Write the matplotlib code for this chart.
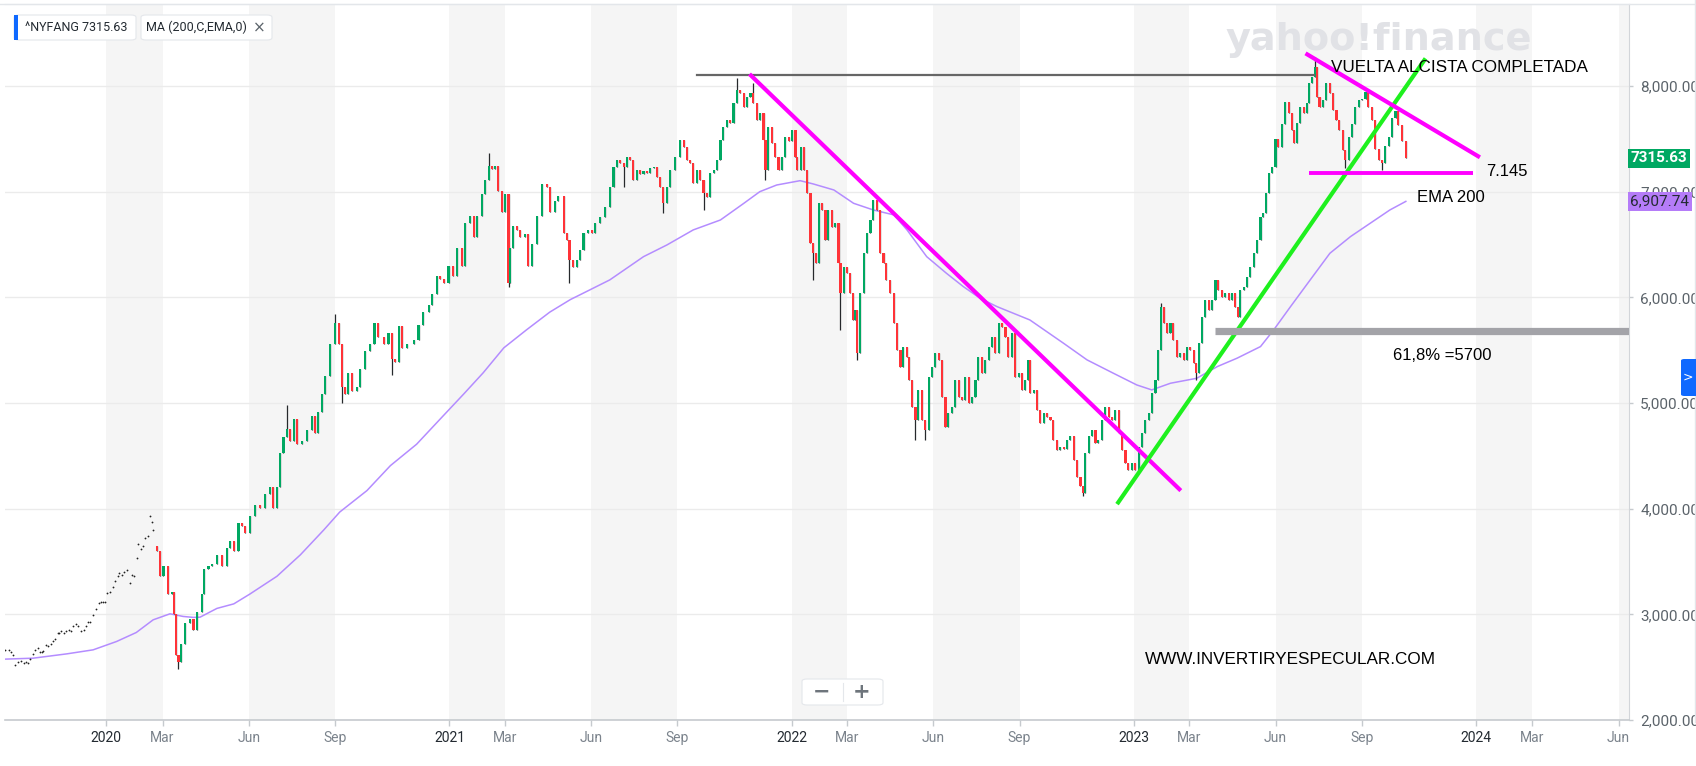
import numpy as np
import matplotlib
matplotlib.use("Agg")
import matplotlib.pyplot as plt
from matplotlib.patches import FancyBboxPatch, Rectangle
from matplotlib.lines import Line2D

W, H = 1696, 766

# ---------------- data (x = days since 2020-01-01) ----------------
dot_days = [-108, -104, -102, -100, -97, -94, -91, -88, -86, -83, -81, -78, -76, -73, -71, -69, -67,
            -64, -62, -59, -57, -55, -52, -50, -48, -45, -43, -40, -38, -35, -32, -30, -27, -24, -22,
            -19, -17, -14, -11, -8, -6, -3, -1, 1, 4, 7, 9, 12, 14, 17, 19, 22, 25, 27, 30, 33, 34,
            37, 39, 41, 44, 47, 49, 50]
dot_vals = [2658, 2658, 2648, 2617, 2522, 2547, 2563, 2538, 2551, 2538, 2576, 2626, 2664, 2686, 2639,
            2642, 2652, 2711, 2696, 2718, 2743, 2765, 2822, 2828, 2838, 2828, 2844, 2853, 2838, 2885,
            2910, 2885, 2838, 2853, 2885, 2923, 2932, 2995, 3049, 3106, 3121, 3112, 3121, 3200, 3216,
            3263, 3311, 3364, 3389, 3374, 3396, 3415, 3295, 3374, 3364, 3531, 3667, 3617, 3642, 3721,
            3743, 3926, 3878, 3800]

first_open = 3650
days = [54, 57, 61, 66, 70, 72, 74, 77, 80, 84, 89, 93, 97, 102, 104, 109, 113, 118, 123, 129, 132,
        136, 141, 145, 148, 153, 159, 164, 169, 175, 178, 182, 185, 189, 193, 196, 200, 203, 209, 214,
        219, 223, 226, 230, 233, 239, 244, 248, 251, 255, 258, 262, 267, 271, 276, 281, 286, 290, 296,
        301, 305, 308, 312, 315, 321, 328, 333, 338, 344, 347, 353, 356, 360, 365, 370, 374, 379, 383,
        388, 392, 395, 401, 404, 408, 411, 415, 418, 422, 425, 429, 431, 434, 438, 441, 447, 450, 454,
        459, 465, 470, 473, 479, 482,
        488, 491, 494, 498, 502, 505, 509, 514, 518, 521, 527, 532, 537, 541, 545, 548, 552, 555, 559,
        562, 566, 569, 573, 577, 580, 584, 587, 591, 594, 598, 601, 607, 612, 616, 619, 623, 626, 630,
        633, 637, 641, 644, 648, 651, 655, 658, 662, 665, 669, 673, 676, 680, 683, 687, 690, 694, 697,
        701, 703, 706, 710, 713, 717, 721, 724, 728, 731, 735, 737, 741, 744, 747, 751, 754, 757, 760,
        763, 767, 770, 774, 777, 781, 783, 787, 790, 793, 796, 799, 801, 804, 808, 811, 815, 818, 822,
        825, 829, 832, 836, 840, 843, 847, 850, 854, 856, 859, 863, 866, 870, 873, 877, 881, 884, 888,
        891, 895, 898, 902, 905, 909, 913, 916, 920,
        923, 927, 930, 934, 937, 941, 945, 948, 952, 955, 959, 962, 966, 969, 973, 977, 980, 983, 985,
        989, 993, 996, 1000, 1003, 1007, 1010, 1014, 1017, 1021, 1025, 1028, 1032, 1035, 1039, 1042,
        1044, 1048, 1051, 1055, 1058, 1062, 1065, 1069, 1073, 1076, 1080, 1083, 1087, 1090, 1094, 1097,
        1101, 1105, 1108, 1112, 1115, 1119, 1122, 1125, 1128, 1131, 1135, 1138, 1142, 1145, 1149, 1153,
        1156, 1160, 1162, 1165, 1169, 1172, 1176, 1179, 1183, 1186, 1190, 1193, 1197, 1201, 1204, 1207,
        1209, 1213, 1217, 1220, 1224, 1227, 1231, 1234, 1237, 1240, 1243, 1247, 1250, 1254, 1257, 1261,
        1265, 1267, 1270, 1273, 1277, 1281, 1283, 1286, 1289, 1291, 1294, 1298, 1301, 1305, 1308, 1312,
        1315, 1319, 1321, 1325, 1329, 1332, 1336, 1339, 1343, 1346, 1350, 1353, 1357, 1361, 1364, 1368,
        1371, 1375, 1378, 1382, 1386]
closes = [3600, 3360, 3460, 3190, 3210, 3005, 2617, 2550, 2718, 2920, 2955, 2853, 3022, 3190, 3427,
          3460, 3478, 3562, 3460, 3630, 3698, 3597, 3867, 3840, 3765, 3935, 4036, 4002, 4137, 4204,
          4002, 4204, 4526, 4678, 4750, 4644, 4847, 4610, 4640, 4745, 4880, 4712, 4914, 5083, 5252,
          5556, 5759, 5556, 5150, 5083, 5286, 5117, 5150, 5320, 5489, 5556, 5759, 5624, 5556, 5658,
          5421, 5387, 5725, 5522, 5560, 5600, 5742, 5860, 5928, 6029, 6198, 6170, 6131, 6300, 6198,
          6469, 6300, 6705, 6773, 6570, 6773, 6975, 7111, 7246, 7212, 7246, 7009, 6806, 6975, 6131,
          6469, 6671, 6638, 6570, 6604, 6300, 6502, 6773, 7077, 7043, 6806, 6908, 6958,
          6606, 6543, 6354, 6290, 6354, 6448, 6606, 6638, 6606, 6701, 6764, 6858, 7048, 7237, 7300,
          7268, 7237, 7331, 7300, 7111, 7205, 7170, 7200, 7180, 7220, 7237, 7142, 7048, 6890, 7048,
          7205, 7331, 7489, 7426, 7300, 7268, 7079, 7205, 7111, 6985, 6953, 7174, 7205, 7300, 7489,
          7615, 7678, 7647, 7836, 7962, 7930, 7804, 7899, 7930, 7836, 7678, 7741, 7489, 7205, 7615,
          7458, 7331, 7205, 7331, 7521, 7480, 7584, 7331, 7205, 7426, 7205, 6985, 6511, 6417, 6322,
          6890, 6827, 6543, 6827, 6669, 6701, 6322, 6039, 6291, 6228, 6039, 5786, 5881, 5471, 6039,
          6417, 6606, 6732, 6921, 6827, 6417, 6322, 6165, 6039, 5755, 5502, 5345, 5534, 5439, 5219,
          4966, 4840, 5124, 4840, 4746, 5250, 5345, 5471, 5408, 5061, 4777, 4903, 4966, 5219, 5061,
          5029, 5250, 4998,
          5061, 5218, 5439, 5282, 5408, 5534, 5629, 5471, 5755, 5720, 5629, 5439, 5660, 5250, 5282,
          5124, 5218, 5408, 5092, 5124, 4935, 4808, 4903, 4872, 4840, 4651, 4556, 4588, 4560, 4651,
          4683, 4462, 4304, 4210, 4146, 4525, 4683, 4746, 4620, 4651, 4840, 4966, 4872, 4840, 4935,
          4714, 4556, 4430, 4367, 4430, 4367, 4588, 4714, 4840, 4903, 5092, 5218, 5502, 5912, 5755,
          5660, 5755, 5597, 5439, 5471, 5408, 5534, 5502, 5376, 5282, 5565, 5818, 5975, 5881, 5975,
          6165, 6070, 6007, 6039, 5975, 6039, 5912, 5818, 6070, 6102, 6196, 6291, 6417, 6543, 6764,
          6795, 6985, 7174, 7237, 7500, 7426, 7640, 7850, 7741, 7584, 7458, 7647, 7804, 7741, 7836,
          8025, 8088, 8183, 7899, 7804, 7867, 8025, 7930, 7773, 7678, 7584, 7395, 7300, 7521, 7640,
          7800, 7867, 7880, 7940, 7800, 7678, 7400, 7300, 7270, 7430, 7520, 7700, 7760, 7630, 7480,
          7316]

hi_days = [77, 193, 244, 408, 673, 690, 1125, 1289]
hi_vals = [2600, 4982, 5843, 7364, 8072, 8025, 5944, 8270]
lo_days = [77, 251, 305, 429, 494, 552, 594, 637, 703, 754, 783, 801, 863, 873, 1042, 1162, 1321, 1361]
lo_vals = [2480, 5000, 5269, 6100, 6133, 7048, 6795, 6827, 7111, 6165, 5692, 5408, 4651, 4651, 4120,
           5220, 7221, 7205]

ema_days = [-108, -78, -42, -14, 11, 32, 50, 68, 82, 93, 100, 118, 136, 153, 182, 207, 232, 249, 278,
            303, 331, 356, 381, 402, 424, 448, 473, 495, 505, 537, 573, 598, 626, 655, 680, 697, 715,
            740, 754, 776, 797, 818, 840, 854, 875, 896, 914, 932, 950, 985, 1021, 1046, 1074, 1099,
            1115, 1135, 1163, 1185, 1206, 1231, 1245, 1263, 1284, 1305, 1327, 1348, 1369, 1386]
ema_vals = [2576, 2585, 2626, 2664, 2743, 2828, 2948, 3005, 2980, 2971, 2973, 3056, 3099, 3191, 3360,
            3563, 3799, 3968, 4171, 4407, 4610, 4847, 5083, 5286, 5522, 5691, 5860, 5979, 6023, 6165,
            6385, 6496, 6638, 6732, 6890, 7000, 7063, 7104, 7073, 7016, 6890, 6827, 6780, 6638, 6385,
            6228, 6102, 5991, 5912, 5786, 5565, 5408, 5282, 5171, 5124, 5187, 5234, 5345, 5424, 5534,
            5691, 5912, 6165, 6417, 6575, 6701, 6827, 6908]

last_price = 7315.63
last_ema = 6907.74

tick_dates = ["2020-01-01", "2020-03-01", "2020-06-01", "2020-09-01", "2021-01-01", "2021-03-01",
              "2021-06-01", "2021-09-01", "2022-01-01", "2022-03-01", "2022-06-01", "2022-09-01",
              "2023-01-01", "2023-03-01", "2023-06-01", "2023-09-01", "2024-01-01", "2024-03-01",
              "2024-06-01"]
tick_labels = ["2020", "Mar", "Jun", "Sep", "2021", "Mar", "Jun", "Sep", "2022", "Mar", "Jun", "Sep",
               "2023", "Mar", "Jun", "Sep", "2024", "Mar", "Jun"]
y_ticks = [2000, 3000, 4000, 5000, 6000, 7000, 8000]

# annotation lines (days, values)
top_line_days, top_line_vals = [630, 1288], [8104, 8104]
down1_days, down1_vals = [686, 1146], [8113, 4171]
green_days, green_vals = [1078, 1407], [4043, 8261]
down2_days, down2_vals = [1279, 1465], [8309, 7325]
sup_days, sup_vals = [1283, 1458], [7174, 7174]
fib_days, fib_vals = [1183, 1624], [5680, 5680]

# ---------------- figure ----------------
fig = plt.figure(figsize=(W / 100, H / 100), dpi=100)
fig.patch.set_facecolor("white")


def fx(x):
    return x / W


def fy(y):
    return 1 - y / H


ax_left, ax_right, ax_top, ax_bottom = 5, 1629, 4, 720
ax = fig.add_axes([fx(ax_left), fy(ax_bottom), (ax_right - ax_left) / W, (ax_bottom - ax_top) / H])
ax.set_facecolor("white")
ax.set_xlim(-108, 1624)
ax.set_ylim(2002, 8776)

base = np.datetime64("2020-01-01")
tick_d = [(np.datetime64(t) - base).astype(int) for t in tick_dates]

# shaded bands: Jan-Mar and Jun-Sep
for yr in range(2019, 2025):
    for a, b in [(f"{yr}-01-01", f"{yr}-03-01"), (f"{yr}-06-01", f"{yr}-09-01")]:
        da = (np.datetime64(a) - base).astype(int)
        db = (np.datetime64(b) - base).astype(int)
        ax.axvspan(da, db, color="#f5f5f5", lw=0, zorder=0)

for v in y_ticks[1:]:
    ax.axhline(v, color="#ebebeb", lw=1, zorder=0.5)

# watermark
fig.text(fx(1379), fy(40), "yahoo!finance", fontsize=27.5, fontweight="bold",
         family="DejaVu Sans", color="#e1e2e6", ha="center", va="center", zorder=0.6)

# dots before candles
ax.plot(dot_days, dot_vals, "o", ms=1.3, color="#222222", mew=0, zorder=3)

# candles
d = np.array(days, float)
c = np.array(closes, float)
o = np.r_[first_open, c[:-1]]
hi = np.maximum(o, c)
lo = np.minimum(o, c)
for sd, sv in zip(hi_days, hi_vals):
    i = int(np.argmin(np.abs(d - sd)))
    hi[i] = max(hi[i], sv)
for sd, sv in zip(lo_days, lo_vals):
    i = int(np.argmin(np.abs(d - sd)))
    lo[i] = min(lo[i], sv)
up = c >= o
body_h = c - o
body_h = np.where(np.abs(body_h) < 14, np.where(up, 14, -14), body_h)
colors = np.where(up, "#00a862", "#ff3338")
ax.vlines(d, lo, hi, color="#26292c", lw=0.9, zorder=3)
ax.bar(d, body_h, bottom=o, width=2.3, color=colors, lw=0, zorder=4)

# EMA
ax.plot(ema_days, ema_vals, color="#b48cff", lw=1.1, zorder=2.5)

# annotation lines
ax.plot(top_line_days, top_line_vals, color="#666666", lw=1.6, zorder=5)
ax.plot(down1_days, down1_vals, color="#ff00ff", lw=3.0, zorder=6, solid_capstyle="butt")
ax.plot(green_days, green_vals, color="#1ef01e", lw=3.0, zorder=6, solid_capstyle="butt")
ax.plot(down2_days, down2_vals, color="#ff00ff", lw=3.0, zorder=6, solid_capstyle="butt")
ax.plot(sup_days, sup_vals, color="#ff00ff", lw=2.8, zorder=6, solid_capstyle="butt")
ax.plot(fib_days, fib_vals, color="#a3a3a8", lw=5.2, zorder=6, solid_capstyle="butt")

# annotation texts
txt = dict(family="Liberation Sans", color="black", va="center", ha="left", zorder=7)
fig.text(fx(1331), fy(67), "VUELTA ALCISTA COMPLETADA", fontsize=12.3, **txt)
fig.text(fx(1486), fy(171), "7.145", fontsize=12, **txt)
fig.text(fx(1417), fy(198), "EMA 200", fontsize=12, **txt)
fig.text(fx(1393), fy(356), "61,8% =5700", fontsize=12, **txt)
fig.text(fx(1145), fy(659), "WWW.INVERTIRYESPECULAR.COM", fontsize=12.3, **txt)

# axes styling
ax.spines["left"].set_visible(False)
ax.spines["top"].set_color("#e3e6ea")
ax.spines["right"].set_color("#d2d5d9")
ax.spines["bottom"].set_color("#c6cace")
ax.spines["bottom"].set_linewidth(1.2)

ax.set_xticks(tick_d)
ax.set_xticklabels(tick_labels, family="Roboto", fontsize=10)
for lbl, t in zip(ax.get_xticklabels(), tick_labels):
    lbl.set_color("#232a31" if t.isdigit() else "#7b838c")
ax.tick_params(axis="x", direction="out", length=4, width=1, color="#c6cace", pad=4)

ax.yaxis.tick_right()
ax.set_yticks(y_ticks)
ax.set_yticklabels([f"{v:,.2f}" for v in y_ticks], family="Roboto", fontsize=11, color="#5b636a")
ax.tick_params(axis="y", direction="out", length=3, width=1, color="#c6cace", pad=5)

# price badges
ytr = ax.get_yaxis_transform()
ax.text(1.0008, last_price, f"{last_price:.2f}", transform=ytr, fontsize=11, family="Roboto",
        fontweight="bold", color="white", va="center", ha="left", zorder=10, clip_on=False,
        bbox=dict(boxstyle="square,pad=0.18", fc="#00a862", ec="none"))
ax.text(1.0008, last_ema, f"{last_ema:,.2f}", transform=ytr, fontsize=11, family="Roboto",
        color="#232a31", va="center", ha="left", zorder=10, clip_on=False,
        bbox=dict(boxstyle="square,pad=0.18", fc="#b57cf8", ec="none"))

# top border line and right edge
fig.add_artist(Line2D([0, 1], [fy(4), fy(4)], color="#e3e6ea", lw=1))
fig.add_artist(Line2D([fx(1694.5), fx(1694.5)], [fy(0), fy(722)], color="#e3e6ea", lw=1))


# legend chips
def chip(x0, y0, w, h):
    p = FancyBboxPatch((fx(x0), fy(y0 + h)), w / W, h / H, boxstyle="round,pad=0,rounding_size=0.003",
                       transform=fig.transFigure, fc="white", ec="#e4e7eb", lw=0.8, zorder=20)
    fig.add_artist(p)


chip(14, 15, 122, 25)
fig.add_artist(Rectangle((fx(14), fy(40)), 4 / W, 25 / H, transform=fig.transFigure,
                         fc="#0f69ff", ec="none", zorder=21))
fig.text(fx(25), fy(27.5), "^NYFANG 7315.63", fontsize=9, family="Roboto", color="#232a31",
         va="center", ha="left", zorder=22)
chip(141, 15, 131, 25)
fig.text(fx(146), fy(27.5), "MA (200,C,EMA,0)", fontsize=9, family="Roboto", color="#232a31",
         va="center", ha="left", zorder=22)
fig.text(fx(259), fy(27.5), "\u00d7", fontsize=11, family="DejaVu Sans", color="#5b636a",
         va="center", ha="center", zorder=22)

# zoom buttons
chip(802, 679, 81, 26)
fig.add_artist(Line2D([fx(842.5), fx(842.5)], [fy(683), fy(701)], color="#e4e7eb", lw=0.8, zorder=21))
fig.text(fx(822), fy(692), "\u2212", fontsize=15, fontweight="bold", family="DejaVu Sans",
         color="#6e757c", va="center", ha="center", zorder=22)
fig.text(fx(862), fy(692), "+", fontsize=15, fontweight="bold", family="DejaVu Sans",
         color="#6e757c", va="center", ha="center", zorder=22)

# blue side button
fig.add_artist(FancyBboxPatch((fx(1681), fy(396)), 20 / W, 37 / H,
                              boxstyle="round,pad=0,rounding_size=0.002", transform=fig.transFigure,
                              fc="#0f69ff", ec="none", zorder=20))
fig.text(fx(1688), fy(377), ">", fontsize=9, family="DejaVu Sans", color="white",
         va="center", ha="center", zorder=21)

fig.savefig("out.png", dpi=100, facecolor="white")
